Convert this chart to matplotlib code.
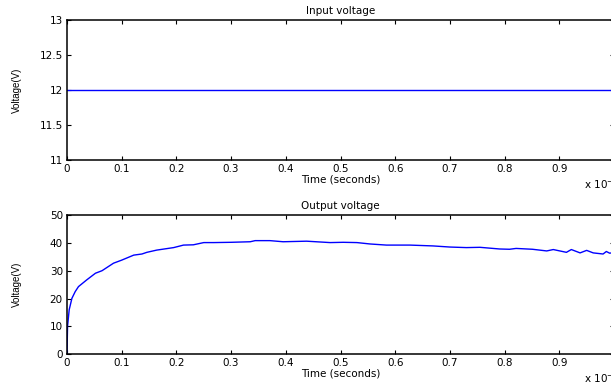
import numpy as np
import matplotlib
matplotlib.use("Agg")
import matplotlib.pyplot as plt

plt.rcParams['font.family'] = ['DejaVu Sans']

# time axis is shown in units of 1e-3 s (the "x 10^-3" multiplier)
t_in = [0.0, 1.0]
v_in = [12.0, 12.0]

t_out = [0, 0.001, 0.004, 0.009, 0.015, 0.021, 0.036, 0.052, 0.064, 0.085,
         0.100, 0.122, 0.137, 0.146, 0.164, 0.195, 0.213, 0.231, 0.250, 0.268,
         0.300, 0.335, 0.344, 0.371, 0.395, 0.438, 0.481, 0.505, 0.530, 0.554,
         0.584, 0.627, 0.669, 0.700, 0.730, 0.755, 0.791, 0.809, 0.821, 0.851,
         0.877, 0.889, 0.913, 0.922, 0.938, 0.950, 0.962, 0.980, 0.986, 0.992, 1.0]
v_out = [0, 10, 16, 20.1, 22.5, 24.3, 26.7, 29.1, 30.0, 32.7,
         33.8, 35.6, 36.0, 36.6, 37.4, 38.3, 39.2, 39.3, 40.1, 40.1,
         40.2, 40.4, 40.8, 40.8, 40.4, 40.6, 40.1, 40.2, 40.1, 39.6,
         39.2, 39.2, 38.9, 38.5, 38.3, 38.4, 37.8, 37.7, 38.0, 37.7,
         37.1, 37.6, 36.6, 37.6, 36.4, 37.3, 36.4, 36.0, 36.9, 36.3, 36.5]

x_ticks = [0, 0.1, 0.2, 0.3, 0.4, 0.5, 0.6, 0.7, 0.8, 0.9]
x_ticklabels = ['0', '0.1', '0.2', '0.3', '0.4', '0.5', '0.6', '0.7', '0.8', '0.9']

fig = plt.figure(figsize=(6.11, 3.85), dpi=100)

W, H = 611.0, 385.0
left = 67 / W
width = (614 - 67) / W   # right edge falls just outside the picture

ax1 = fig.add_axes([left, 1 - 160 / H, width, 140 / H])
ax2 = fig.add_axes([left, 1 - 354.3 / H, width, 139.3 / H])

def style(ax, title, ylim, yticks, ylabels):
    ax.set_xlim(0, 1)
    ax.set_ylim(*ylim)
    ax.set_xticks(x_ticks)
    ax.set_xticklabels(x_ticklabels)
    ax.set_yticks(yticks)
    ax.set_yticklabels(ylabels)
    ax.tick_params(direction='in', length=3, width=0.8, top=True, right=True,
                   labelsize=7.5, pad=3)
    for s in ax.spines.values():
        s.set_linewidth(1.1)
    ax.set_title(title, fontsize=7.5, pad=4)
    ax.set_xlabel('Time (seconds)', fontsize=7.5, labelpad=0)
    ax.set_ylabel('Voltage(V)', fontsize=7, family=['Liberation Sans'])
    ax.yaxis.set_label_coords(-0.083, 0.5)

ax1.plot(t_in, v_in, color='#0000ff', lw=1.0)
style(ax1, 'Input voltage', (11, 13), [11, 11.5, 12, 12.5, 13],
      ['11', '11.5', '12', '12.5', '13'])

ax2.plot(t_out, v_out, color='#0000ff', lw=1.0)
style(ax2, 'Output voltage', (0, 50), [0, 10, 20, 30, 40, 50],
      ['0', '10', '20', '30', '40', '50'])

# multiplier text runs past the right edge, as in the reference
fig.text(584 / W, 1 - 184 / H, 'x 10$^{-3}$', fontsize=7.5, va='center', ha='left')
fig.text(584 / W, 1 - 378 / H, 'x 10$^{-3}$', fontsize=7.5, va='center', ha='left')

fig.savefig('out.png', dpi=100)
